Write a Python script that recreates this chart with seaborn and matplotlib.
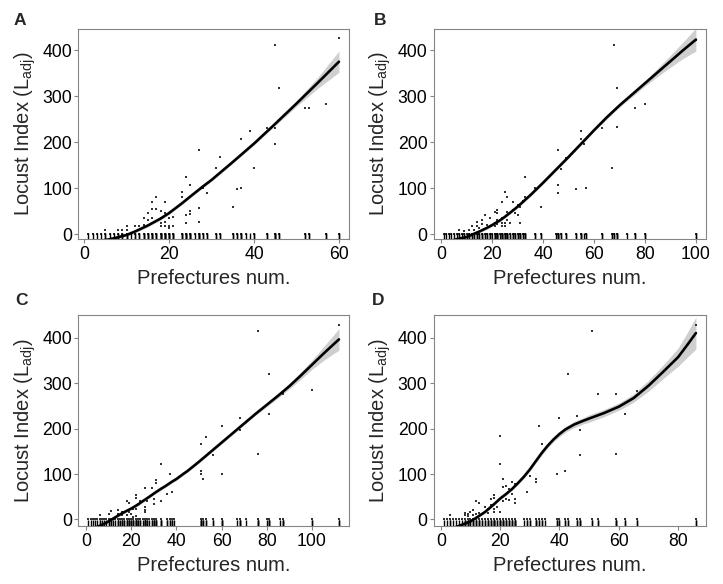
import numpy as np
import pandas as pd
import seaborn as sns
import matplotlib
matplotlib.use("Agg")
import matplotlib.pyplot as plt

# ---- panel A ----
a_x = [60, 45, 46, 52, 53, 57, 39, 43, 45, 45, 37, 40, 32, 31, 27, 24, 25, 23, 23, 28, 29, 36, 37, 35,
       27, 27, 25, 25, 24, 24, 17, 16, 19, 17, 18, 16, 16, 15, 19, 18, 20, 21, 18, 19, 18, 20, 21, 20,
       19, 14, 13, 12, 10, 10, 9, 8, 5, 14, 15]
a_y = [427, 412, 317, 275, 275, 282, 224, 231, 230, 196, 206, 145, 167, 143, 183, 125, 108, 91, 82, 101,
       90, 99, 100, 60, 56, 26, 51, 43, 42, 24, 82, 71, 69, 55, 51, 54, 35, 46, 46, 35, 35, 38, 24, 18,
       17, 17, 17, 13, 27, 20, 18, 18, 17, 9, 9, 9, 9, 35, 31]
a_zero = list(range(1, 22)) + [23, 24, 25, 26, 27, 28, 29, 31, 32, 35, 36, 37, 38, 40, 43, 45, 46,
                               52, 53, 57, 60]
a_fx = [1, 4, 6, 8, 10, 12, 15, 18, 20, 23, 25, 28, 30, 35, 40, 45, 50, 55, 60]
a_fit = [-17, -14, -11, -6.5, -1.5, 6, 19, 34, 46, 67, 82, 104, 118, 157, 197, 240, 284, 329, 375]
a_se = [6, 4, 3, 3, 3, 3, 3, 3, 3, 3, 3, 3, 3, 3, 3, 4, 6, 12, 23]

# ---- panel B ----
b_x = [100, 68, 69, 69, 76, 80, 63, 67, 55, 55, 56, 49, 47, 46, 46, 46, 53, 57, 39, 37, 33, 25, 26, 33,
       32, 30, 31, 28, 24, 30, 31, 17, 19, 22, 21, 22, 24, 26, 28, 29, 22, 24, 25, 24, 25, 19, 21, 22,
       16, 18, 14, 15, 12, 13, 7, 11, 9, 14, 16, 21, 26, 27]
b_y = [423, 412, 317, 234, 275, 282, 230, 143, 225, 206, 196, 166, 141, 183, 107, 89, 98, 100, 60, 100,
       125, 91, 82, 82, 72, 64, 59, 71, 69, 42, 25, 42, 35, 53, 48, 46, 36, 49, 53, 47, 31, 25, 24, 17,
       17, 17, 17, 22, 22, 20, 17, 13, 17, 9, 9, 9, 6, 27, 31, 24, 31, 24]
b_zero = list(range(1, 34)) + [37, 39, 45, 46, 47, 49, 53, 55, 57, 63, 67, 68, 69, 73, 76, 80, 100]
b_fx = [1, 4, 6, 8, 10, 12, 15, 18, 20, 23, 25, 28, 30, 35, 40, 45, 50, 55, 60, 65, 70, 75, 80, 85,
        90, 95, 100]
b_fit = [-17, -14, -11, -8.5, -6, -1, 6, 14, 20, 30, 38, 51, 60, 85, 112, 140, 168, 197, 226, 254,
         280, 304, 328, 352, 376, 400, 423]
b_se = [6, 4, 3, 3, 3, 3, 3, 3, 3, 3, 3, 3, 3, 3, 3, 3, 3, 3, 3, 4, 4, 5, 6, 9, 13, 18, 25]

# ---- panel C ----
c_x = [112, 76, 81, 100, 81, 87, 87, 68, 68, 60, 76, 60, 53, 51, 51, 51, 52, 56, 33, 37, 31, 31, 38, 36,
       29, 26, 18, 19, 22, 22, 24, 23, 27, 30, 33, 30, 26, 26, 26, 21, 22, 16, 17, 19, 14, 11, 10, 6,
       14, 16, 18, 20, 21, 22]
c_y = [428, 414, 319, 284, 233, 279, 275, 223, 196, 205, 143, 99, 182, 165, 106, 99, 89, 141, 123, 101,
       86, 81, 61, 57, 70, 70, 40, 37, 53, 48, 40, 35, 40, 35, 40, 46, 28, 20, 17, 24, 24, 17, 17, 17,
       20, 18, 13, 10, 11, 10, 10, 11, 6, 8]
c_zero = list(range(1, 32)) + [33, 36, 37, 38, 39, 51, 52, 53, 56, 60, 67, 68, 71, 76, 80, 81, 86, 87,
                               100, 112]
c_fx = [1, 3, 5, 7, 10, 12, 15, 18, 20, 23, 25, 28, 30, 33, 35, 38, 40, 43, 45, 50, 55, 60, 65, 70,
        75, 80, 85, 90, 95, 100, 105, 110, 112]
c_fit = [-24, -20, -16, -12, -4, 2, 11, 19, 24, 33, 40, 50, 57, 67, 73, 83, 89, 100, 107, 127, 148,
         169, 190, 211, 232, 252, 272, 293, 316, 340, 364, 387, 396]
c_se = [6, 5, 4, 3, 3, 3, 3, 3, 3, 3, 3, 3, 3, 3, 3, 3, 3, 3, 3, 3, 3, 3, 3, 3, 3, 4, 5, 6, 8, 10,
        15, 21, 24]

# ---- panel D ----
d_x = [86, 51, 43, 53, 59, 66, 62, 40, 46, 47, 33, 34, 20, 20, 47, 59, 39, 42, 30, 32, 32, 29, 21, 22,
       21, 24, 25, 23, 24, 25, 25, 22, 23, 21, 18, 18, 17, 17, 12, 13, 19, 20, 18, 18, 15, 16, 11, 10,
       9, 8, 3, 13, 14, 16, 12, 11, 8, 9]
d_y = [428, 414, 319, 277, 277, 283, 233, 224, 228, 196, 205, 166, 183, 123, 141, 143, 100, 107, 95, 88,
       83, 61, 89, 74, 72, 83, 77, 68, 57, 45, 37, 46, 43, 40, 53, 48, 46, 31, 40, 37, 28, 17, 17, 23,
       28, 24, 20, 17, 13, 15, 10, 15, 11, 15, 13, 10, 10, 8]
d_zero = list(range(1, 26)) + [28, 29, 30, 32, 33, 34, 35, 39, 40, 42, 43, 46, 47, 51, 53, 59, 62, 66, 86]
d_fx = [1, 3, 5, 7, 10, 12, 15, 18, 20, 22, 24, 26, 28, 30, 32, 34, 36, 38, 40, 42, 45, 48, 50, 55,
        60, 65, 70, 75, 80, 83, 86]
d_fit = [-26, -22, -17, -12, -4, 4, 17, 34, 46, 56, 67, 80, 94, 110, 128, 146, 162, 176, 188, 198,
         209, 217, 222, 234, 248, 267, 294, 325, 357, 383, 410]
d_se = [8, 6, 5, 4, 3, 3, 3, 3, 3, 3, 3, 4, 4, 4, 4, 5, 5, 5, 6, 6, 7, 7, 8, 8, 8, 9, 12, 15, 20, 27,
        35]

panels = [
    ("A", a_x, a_y, a_zero, a_fx, a_fit, a_se, [0, 20, 40, 60], (-11, 446)),
    ("B", b_x, b_y, b_zero, b_fx, b_fit, b_se, [0, 20, 40, 60, 80, 100], (-11, 446)),
    ("C", c_x, c_y, c_zero, c_fx, c_fit, c_se, [0, 20, 40, 60, 80, 100], (-15, 449)),
    ("D", d_x, d_y, d_zero, d_fx, d_fit, d_se, [0, 20, 40, 60, 80], (-15, 449)),
]

sns.set_theme(style="white")
plt.rcParams["font.family"] = ["Liberation Sans", "DejaVu Sans"]
plt.rcParams["mathtext.fontset"] = "custom"
plt.rcParams["mathtext.rm"] = "Liberation Sans"

W, H = 723, 584
fig = plt.figure(figsize=(W / 100, H / 100), dpi=100)
# axes boxes in pixels: left, top, right, bottom
boxes = [(78.3, 29, 349, 239.3), (433.7, 29, 706, 239.3),
         (78.3, 315.3, 349, 526.3), (433.7, 315.3, 706, 526.3)]
letter_pos = [(14, 13), (374, 13), (15, 293), (372, 293)]
frame_col = "#858585"

for (name, px, py, pz, fx, fit, se, xt, yl), box, lp in zip(panels, boxes, letter_pos):
    l, t, r, b = box
    ax = fig.add_axes([l / W, 1 - b / H, (r - l) / W, (b - t) / H])
    pts = pd.DataFrame({"x": px + pz, "y": py + [0] * len(pz)})
    curve = pd.DataFrame({"x": fx, "fit": fit, "se": se})
    curve["lo"] = curve["fit"] - curve["se"]
    curve["hi"] = curve["fit"] + curve["se"]

    ax.fill_between(curve["x"], curve["lo"], curve["hi"], color="#cfcfcf", lw=0, zorder=1)
    sns.lineplot(data=curve, x="x", y="fit", ax=ax, color="black", lw=1.9, zorder=3)
    sns.scatterplot(data=pts, x="x", y="y", ax=ax, color="#333333", marker="s", s=1.6,
                    linewidth=0, zorder=2)
    sns.rugplot(data=pts, x="x", ax=ax, height=0.03, color="black", lw=0.8, zorder=5)

    xmin, xmax = min(pts["x"]), max(pts["x"])
    pad = 0.04 * (xmax - xmin)
    ax.set_xlim(xmin - pad, xmax + pad)
    ax.set_ylim(*yl)
    ax.set_xticks(xt)
    ax.set_yticks([0, 100, 200, 300, 400])
    for sp in ax.spines.values():
        sp.set_color(frame_col)
        sp.set_linewidth(0.8)
    ax.tick_params(axis="both", which="major", direction="out", length=3, width=0.8,
                   color=frame_col, labelcolor="black", labelsize=12.7,
                   bottom=True, left=True, pad=1.5)
    ax.set_xlabel("Prefectures num.", fontsize=14.5)
    ax.set_ylabel("Locust Index (L$_{\\mathregular{adj}}$)", fontsize=14.5)
    ax.xaxis.set_label_coords(0.5, -0.142)
    ax.yaxis.set_label_coords(-0.149, 0.5)
    fig.text(lp[0] / W, 1 - lp[1] / H, name, fontsize=12.5, fontweight="bold",
             ha="left", va="top")

fig.savefig("out.png", dpi=100)
